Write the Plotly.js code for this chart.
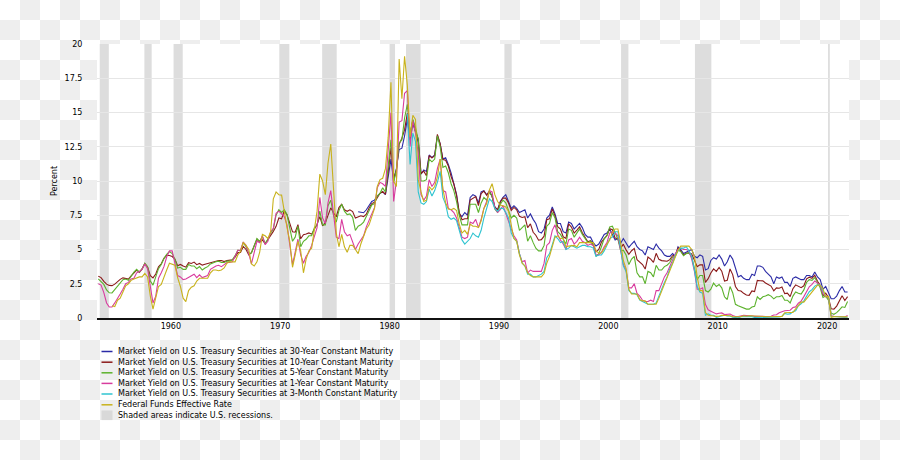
<!DOCTYPE html>
<html>
<head>
<meta charset="utf-8">
<script src="https://cdn.plot.ly/plotly-3.0.1.min.js"></script>
<style>
html, body { margin: 0; padding: 0; }
body { background: repeating-conic-gradient(#eeeeee 0 25%, #ffffff 0 50%) 0 0 / 40px 40px; }
#chart { width: 900px; height: 460px; }
</style>
</head>
<body>
<div id="chart"></div>
<script>
// Series names (legend labels)
const seriesNames = [
  "Market Yield on U.S. Treasury Securities at 30-Year Constant Maturity",
  "Market Yield on U.S. Treasury Securities at 10-Year Constant Maturity",
  "Market Yield on U.S. Treasury Securities at 5-Year Constant Maturity",
  "Market Yield on U.S. Treasury Securities at 1-Year Constant Maturity",
  "Market Yield on U.S. Treasury Securities at 3-Month Constant Maturity",
  "Federal Funds Effective Rate"
];
const recessionNote = "Shaded areas indicate U.S. recessions.";
const seriesColors = ["#2b2ba6", "#8b1a1a", "#5cb22c", "#d83c9e", "#2fc4d0", "#c8b21c"];

// Quarterly readings (percent). Start quarter given per series.
const y30Start = [1977, 1];
const y30 = [
  7.75, 7.72, 7.68, 7.90,
  8.20, 8.50, 8.60, 8.90,
  9.10, 9.20, 9.00, 10.20,
  11.60, 10.00, 10.90, 12.30,
  12.40, 13.30, 14.50, 13.00,
  14.20, 13.60, 12.80, 10.50,
  10.80, 10.70, 11.90, 11.70,
  11.90, 13.30, 12.70, 11.60,
  11.70, 11.20, 10.60, 9.80,
  9.00, 7.60, 7.40, 7.70,
  7.50, 8.80, 9.00, 8.90,
  8.40, 9.20, 9.30, 9.00,
  9.20, 8.90, 8.10, 7.90,
  8.50, 8.80, 9.00, 8.50,
  8.00, 8.20, 8.00, 7.70,
  7.80, 7.90, 7.30, 7.60,
  7.20, 6.90, 6.30, 6.20,
  6.50, 7.30, 7.50, 8.10,
  7.60, 6.90, 6.90, 6.30,
  6.20, 7.00, 6.90, 6.50,
  6.70, 6.90, 6.60, 6.10,
  5.90, 5.90, 5.50, 5.25,
  5.40, 5.80, 6.10, 6.20,
  6.50, 6.10, 5.70, 5.80,
  5.45, 5.80, 5.50, 5.15,
  5.40, 5.60, 5.20, 5.00,
  4.90, 4.60, 5.20, 5.10,
  5.00, 5.40, 5.10, 4.90,
  4.60, 4.50, 4.50, 4.70,
  4.50, 5.20, 5.00, 4.70,
  4.80, 4.90, 5.00, 4.50,
  4.40, 4.60, 4.50, 3.50,
  3.60, 4.20, 4.40, 4.30,
  4.60, 4.30, 3.80, 4.10,
  4.60, 4.30, 3.60, 3.00,
  3.10, 2.90, 2.80, 2.80,
  3.20, 3.10, 3.80, 3.80,
  3.70, 3.40, 3.20, 3.00,
  2.50, 3.00, 2.90, 3.00,
  2.60, 2.60, 2.30, 2.90,
  3.00, 2.90, 2.80, 2.80,
  3.10, 3.10, 3.00, 3.36,
  3.00, 2.80, 2.10, 2.30,
  1.90, 1.40, 1.40, 1.60,
  2.00, 2.30, 1.90, 1.90
];

const y10Start = [1953, 2];
const y10 = [
  3.05, 2.95, 2.68,
  2.47, 2.38, 2.36, 2.47,
  2.67, 2.82, 2.93, 2.89,
  2.84, 3.07, 3.28, 3.49,
  3.32, 3.57, 3.98, 3.72,
  3.09, 2.93, 3.21, 3.73,
  3.96, 4.35, 4.57, 4.56,
  4.49, 4.30, 3.82, 3.91,
  3.79, 3.71, 4.04, 3.98,
  4.08, 3.89, 3.98, 3.86,
  3.92, 3.97, 4.02, 4.12,
  4.15, 4.20, 4.19, 4.12,
  4.19, 4.20, 4.25, 4.45,
  4.77, 4.78, 5.22, 5.00,
  4.61, 4.77, 5.28, 5.75,
  5.53, 5.70, 5.42, 5.70,
  6.04, 6.32, 6.69, 7.30,
  7.24, 7.83, 7.53, 6.87,
  6.29, 6.26, 6.81, 5.78,
  6.08, 6.13, 6.21, 6.12,
  6.51, 6.85, 7.40, 6.73,
  6.96, 7.51, 8.04, 7.68,
  7.39, 8.06, 8.30, 7.90,
  7.79, 7.90, 7.77, 7.29,
  7.39, 7.46, 7.40, 7.58,
  8.03, 8.35, 8.45, 8.75,
  9.10, 9.24, 9.03, 10.65,
  12.41, 10.18, 10.80, 12.68,
  13.12, 13.75, 14.94, 13.39,
  14.43, 13.62, 13.06, 10.55,
  10.72, 10.38, 11.85, 11.69,
  11.84, 13.41, 12.72, 11.57,
  11.51, 11.10, 10.33, 9.78,
  8.93, 7.71, 7.17, 7.25,
  7.25, 8.61, 8.76, 8.86,
  8.21, 9.09, 9.26, 8.96,
  9.27, 8.86, 8.11, 7.87,
  8.47, 8.76, 8.75, 8.39,
  7.85, 8.07, 7.90, 7.42,
  7.34, 7.39, 6.59, 6.87,
  6.26, 6.04, 5.68, 5.72,
  5.97, 7.18, 7.24, 7.96,
  7.44, 6.66, 6.49, 5.93,
  5.81, 6.87, 6.64, 6.20,
  6.42, 6.66, 6.22, 5.88,
  5.57, 5.65, 5.34, 4.83,
  5.00, 5.54, 5.80, 6.03,
  6.52, 6.44, 5.83, 5.78,
  5.10, 5.39, 4.97, 4.65,
  4.91, 5.08, 4.26, 4.05,
  3.90, 3.57, 4.45, 4.30,
  4.06, 4.72, 4.28, 4.19,
  4.17, 4.14, 4.26, 4.54,
  4.57, 5.11, 4.88, 4.60,
  4.72, 4.75, 4.67, 4.15,
  3.74, 3.88, 3.89, 2.60,
  2.87, 3.29, 3.59, 3.40,
  3.69, 3.42, 2.70, 2.76,
  3.58, 3.17, 2.30, 2.01,
  1.97, 1.80, 1.68, 1.65,
  1.98, 1.93, 2.74, 2.72,
  2.71, 2.56, 2.42, 2.33,
  1.98, 2.20, 2.17, 2.26,
  1.78, 1.81, 1.56, 2.14,
  2.42, 2.30, 2.21, 2.35,
  2.86, 2.98, 2.89, 3.12,
  2.68, 2.40, 1.63, 1.81,
  1.50, 0.67, 0.65, 0.87,
  1.26, 1.62, 1.28, 1.56
];

const y5Start = [1953, 2];
const y5 = [
  2.85, 2.66, 2.45,
  2.05, 1.84, 1.83, 2.09,
  2.35, 2.60, 2.80, 2.85,
  2.75, 3.05, 3.35, 3.55,
  3.35, 3.60, 4.00, 3.75,
  2.70, 2.40, 3.00, 3.60,
  3.90, 4.35, 4.65, 4.85,
  4.70, 4.30, 3.65, 3.70,
  3.55, 3.55, 3.90, 3.80,
  3.80, 3.60, 3.75, 3.50,
  3.65, 3.75, 3.95, 4.05,
  4.10, 4.15, 4.05, 4.05,
  4.15, 4.15, 4.25, 4.55,
  4.95, 4.90, 5.50, 5.20,
  4.70, 4.75, 5.30, 5.80,
  5.60, 5.95, 5.45, 5.75,
  6.20, 6.50, 7.50, 7.90,
  7.70, 7.90, 7.55, 6.50,
  5.60, 5.90, 6.70, 5.20,
  5.60, 5.75, 6.00, 6.00,
  6.60, 6.75, 7.80, 6.80,
  6.80, 8.20, 8.60, 7.50,
  7.00, 7.85, 8.30, 7.80,
  7.55, 7.60, 7.35, 6.40,
  6.70, 6.80, 7.00, 7.40,
  7.80, 8.25, 8.35, 8.90,
  9.10, 9.50, 9.20, 10.95,
  13.00, 9.90, 10.80, 12.80,
  13.00, 14.60, 15.60, 13.40,
  14.50, 13.90, 13.00, 10.00,
  10.00, 10.10, 11.60, 11.40,
  11.60, 13.30, 12.50, 11.00,
  11.10, 10.60, 9.80, 9.30,
  8.50, 7.50, 6.80, 6.80,
  6.80, 8.30, 8.30, 8.30,
  7.70, 8.40, 8.80, 8.60,
  9.20, 8.90, 7.95, 7.70,
  8.30, 8.60, 8.40, 7.80,
  7.30, 7.50, 7.30, 6.40,
  6.60, 6.80, 5.60, 6.00,
  5.50, 5.10, 4.90, 4.90,
  5.30, 6.70, 6.90, 7.70,
  7.30, 6.30, 6.10, 5.70,
  5.40, 6.50, 6.40, 5.90,
  6.20, 6.50, 6.10, 5.80,
  5.50, 5.60, 5.30, 4.50,
  4.70, 5.20, 5.80, 6.00,
  6.65, 6.70, 6.20, 5.75,
  4.90, 4.95, 4.60, 3.90,
  4.30, 4.50, 3.30, 3.00,
  3.00, 2.50, 3.40, 3.30,
  3.00, 3.85, 3.50, 3.50,
  3.75, 3.85, 4.05, 4.45,
  4.55, 4.95, 4.85, 4.55,
  4.70, 4.75, 4.45, 3.60,
  2.80, 3.10, 3.10, 2.00,
  1.90, 2.10, 2.55, 2.30,
  2.45, 2.20, 1.55, 1.35,
  2.30, 1.85, 1.00, 0.90,
  0.80, 0.75, 0.65, 0.65,
  0.80, 0.85, 1.55, 1.35,
  1.55, 1.60, 1.70, 1.60,
  1.40, 1.55, 1.55, 1.65,
  1.30, 1.30, 1.10, 1.60,
  1.90, 1.80, 1.75, 2.05,
  2.60, 2.80, 2.75, 2.95,
  2.50, 2.20, 1.50, 1.60,
  1.30, 0.35, 0.27, 0.39,
  0.60, 0.82, 0.77, 1.20
];

const y1Start = [1953, 2];
const y1 = [
  2.50, 2.40, 1.85,
  1.10, 0.80, 0.80, 1.10,
  1.40, 1.75, 2.10, 2.50,
  2.60, 2.85, 2.90, 3.30,
  3.40, 3.55, 3.95, 3.60,
  2.30, 1.10, 1.60, 2.90,
  3.30, 3.75, 4.45, 4.90,
  4.90, 4.10, 3.10, 3.00,
  2.80, 2.85, 2.95, 3.05,
  3.20, 2.95, 3.15, 2.95,
  3.00, 3.10, 3.55, 3.70,
  3.80, 3.85, 3.75, 3.90,
  4.05, 4.05, 4.10, 4.50,
  4.95, 4.95, 5.55, 5.30,
  4.70, 3.95, 4.80, 5.60,
  5.50, 6.00, 5.35, 5.60,
  6.30, 6.55, 7.65, 7.80,
  7.60, 7.40, 6.80, 5.30,
  3.90, 4.80, 5.75, 4.60,
  4.00, 4.50, 4.80, 5.30,
  6.00, 6.60, 8.80, 7.30,
  6.90, 8.40, 9.30, 7.50,
  5.90, 5.80, 7.20, 6.30,
  6.00, 6.10, 5.60, 5.00,
  5.40, 5.75, 6.00, 6.65,
  7.20, 7.60, 8.05, 9.50,
  9.90, 9.80, 9.60, 12.20,
  15.00, 8.50, 10.00, 14.30,
  14.40, 16.40, 16.60, 12.50,
  14.40, 13.50, 12.00, 9.00,
  8.60, 8.90, 10.10, 9.60,
  9.90, 10.90, 11.60, 9.30,
  9.20, 8.00, 7.90, 7.70,
  7.30, 6.60, 5.90, 5.80,
  5.90, 7.00, 6.90, 7.20,
  6.60, 7.20, 8.00, 8.50,
  9.30, 9.20, 8.00, 7.70,
  7.90, 8.20, 7.60, 7.10,
  6.50, 6.00, 5.70, 4.70,
  4.10, 4.20, 3.30, 3.50,
  3.40, 3.40, 3.40, 3.40,
  4.00, 5.30, 5.50, 6.40,
  6.80, 6.10, 5.70, 5.40,
  5.00, 5.70, 5.80, 5.40,
  5.60, 5.90, 5.60, 5.50,
  5.30, 5.40, 5.30, 4.60,
  4.60, 4.80, 5.20, 5.50,
  6.20, 6.30, 6.20, 6.00,
  4.90, 3.90, 3.50, 2.20,
  2.20, 2.50, 1.80, 1.60,
  1.30, 1.20, 1.20, 1.30,
  1.20, 2.00, 2.00, 2.50,
  3.00, 3.30, 3.80, 4.30,
  4.70, 5.00, 5.10, 5.00,
  5.00, 4.90, 4.30, 3.40,
  2.10, 2.10, 2.20, 1.00,
  0.60, 0.50, 0.40, 0.30,
  0.35, 0.37, 0.25, 0.25,
  0.29, 0.19, 0.11, 0.11,
  0.16, 0.19, 0.18, 0.18,
  0.16, 0.12, 0.13, 0.12,
  0.12, 0.10, 0.11, 0.13,
  0.22, 0.24, 0.38, 0.48,
  0.53, 0.55, 0.57, 0.76,
  0.81, 1.08, 1.23, 1.56,
  1.96, 2.28, 2.45, 2.70,
  2.55, 2.34, 1.77, 1.57,
  1.47, 0.16, 0.13, 0.12,
  0.07, 0.05, 0.07, 0.18
];

const m3Start = [1981, 3];
const m3 = [
  14.90, 11.20,
  13.50, 12.90, 9.20, 8.40,
  8.30, 8.50, 9.40, 8.90,
  9.30, 9.90, 10.70, 8.80,
  8.30, 7.40, 7.20, 7.30,
  7.10, 6.30, 5.70, 5.40,
  5.60, 5.80, 6.20, 6.00,
  5.90, 6.40, 7.30, 8.10,
  8.70, 8.50, 8.00, 7.80,
  8.00, 8.00, 7.70, 7.30,
  6.20, 5.80, 5.60, 4.70,
  4.00, 3.80, 3.20, 3.20,
  3.00, 3.00, 3.10, 3.20,
  3.40, 4.40, 4.70, 5.40,
  6.00, 5.80, 5.50, 5.60,
  5.00, 5.10, 5.30, 5.20,
  5.10, 5.20, 5.30, 5.30,
  5.20, 5.20, 5.10, 4.50,
  4.60, 4.60, 4.90, 5.30,
  5.80, 5.90, 6.30, 6.30,
  5.00, 3.80, 3.40, 2.00,
  1.80, 1.80, 1.70, 1.30,
  1.20, 1.10, 1.00, 1.00,
  1.00, 1.10, 1.60, 2.20,
  2.60, 3.00, 3.60, 4.00,
  4.60, 4.90, 5.10, 5.10,
  5.20, 4.90, 4.50, 3.50,
  2.30, 1.90, 1.80, 0.20,
  0.30, 0.20, 0.20, 0.05,
  0.10, 0.20, 0.20, 0.15,
  0.15, 0.06, 0.02, 0.01,
  0.09, 0.09, 0.10, 0.10,
  0.10, 0.04, 0.04, 0.07,
  0.05, 0.03, 0.03, 0.02,
  0.02, 0.02, 0.07, 0.13,
  0.33, 0.27, 0.30, 0.45,
  0.53, 0.90, 1.03, 1.25,
  1.62, 1.92, 2.07, 2.33,
  2.44, 2.40, 1.99, 1.57,
  1.54, 0.13, 0.11, 0.09,
  0.04, 0.02, 0.05, 0.05
];

const ffStart = [1954, 3];
const ff = [
  0.90, 0.83,
  1.30, 1.45, 1.90, 2.35,
  2.50, 2.75, 2.85, 2.95,
  3.00, 3.00, 3.25, 3.00,
  1.60, 0.65, 1.50, 2.30,
  2.45, 2.90, 3.50, 4.00,
  3.95, 3.85, 2.95, 2.30,
  1.45, 1.20, 2.00, 2.25,
  2.35, 2.70, 2.90, 2.90,
  2.95, 2.90, 3.30, 3.50,
  3.50, 3.45, 3.50, 3.65,
  4.00, 4.10, 4.10, 4.10,
  4.60, 4.85, 5.50, 5.30,
  5.00, 3.95, 3.80, 4.10,
  4.80, 6.10, 6.00, 5.80,
  6.30, 8.70, 9.20, 9.00,
  8.97, 7.70, 6.60, 5.60,
  3.70, 4.60, 5.60, 4.90,
  3.30, 4.30, 4.90, 5.10,
  6.60, 7.80, 10.50, 10.00,
  9.00, 11.30, 12.70, 9.50,
  6.20, 5.20, 6.10, 5.20,
  4.80, 5.30, 5.30, 5.00,
  4.70, 5.40, 5.90, 6.50,
  6.80, 7.40, 8.00, 9.60,
  10.10, 10.20, 10.90, 13.20,
  17.20, 10.00, 9.60, 18.90,
  16.00, 19.10, 17.00, 13.20,
  14.80, 14.50, 10.10, 9.20,
  8.50, 8.60, 9.60, 9.35,
  9.60, 10.30, 11.60, 9.40,
  8.40, 7.95, 7.90, 8.00,
  7.85, 6.85, 6.20, 6.40,
  6.10, 6.85, 6.70, 6.70,
  6.60, 7.10, 8.00, 8.35,
  9.35, 9.80, 9.00, 8.50,
  8.25, 8.20, 8.10, 7.80,
  6.90, 5.80, 5.60, 4.60,
  4.00, 3.80, 3.30, 3.10,
  3.00, 3.00, 3.00, 3.00,
  3.25, 4.00, 4.50, 5.30,
  5.90, 6.00, 5.80, 5.80,
  5.20, 5.25, 5.25, 5.30,
  5.20, 5.50, 5.50, 5.50,
  5.50, 5.50, 5.50, 4.90,
  4.75, 4.75, 5.10, 5.40,
  5.70, 6.25, 6.50, 6.50,
  5.50, 4.20, 3.60, 2.10,
  1.75, 1.75, 1.75, 1.35,
  1.25, 1.25, 1.00, 1.00,
  1.00, 1.00, 1.45, 1.95,
  2.50, 3.00, 3.50, 4.00,
  4.50, 4.95, 5.25, 5.25,
  5.25, 5.25, 5.00, 4.50,
  3.00, 2.00, 2.00, 0.40,
  0.20, 0.20, 0.15, 0.12,
  0.13, 0.20, 0.19, 0.19,
  0.16, 0.09, 0.10, 0.08,
  0.10, 0.16, 0.13, 0.16,
  0.15, 0.11, 0.08, 0.08,
  0.07, 0.09, 0.09, 0.09,
  0.11, 0.12, 0.14, 0.12,
  0.38, 0.37, 0.40, 0.41,
  0.66, 0.91, 1.16, 1.16,
  1.42, 1.70, 1.91, 2.20,
  2.40, 2.39, 2.13, 1.55,
  1.58, 0.05, 0.10, 0.09,
  0.08, 0.06, 0.09, 0.08
];

// NBER recessions
const recStart = ["1953-07-01","1957-08-01","1960-04-01","1969-12-01","1973-11-01","1980-01-01","1981-07-01","1990-07-01","2001-03-01","2007-12-01","2020-02-01"];
const recEnd   = ["1954-05-01","1958-04-01","1961-02-01","1970-11-01","1975-03-01","1980-07-01","1982-11-01","1991-03-01","2001-11-01","2009-06-01","2020-04-01"];

// Axis ticks
const yTicks = [0, 2.5, 5, 7.5, 10, 12.5, 15, 17.5, 20];
const yTickText = ["0", "2.5", "5", "7.5", "10", "12.5", "15", "17.5", "20"];
const xTickYears = [1960, 1970, 1980, 1990, 2000, 2010, 2020];

function quarterDates(start, n) {
  const out = [];
  let y = start[0], q = start[1];
  for (let i = 0; i < n; i++) {
    const m = 3 * q - 1;
    out.push(y + "-" + (m < 10 ? "0" + m : m) + "-15");
    q++;
    if (q > 4) { q = 1; y++; }
  }
  return out;
}

const seriesData = [[y30Start, y30], [y10Start, y10], [y5Start, y5], [y1Start, y1], [m3Start, m3], [ffStart, ff]];
const traces = seriesData.map((s, i) => ({
  type: "scatter",
  mode: "lines",
  name: seriesNames[i],
  x: quarterDates(s[0], s[1].length),
  y: s[1],
  line: { color: seriesColors[i], width: 1.1 },
  showlegend: false,
  hoverinfo: "x+y"
}));

// Layout geometry
const M = { l: 97, r: 51, t: 44, b: 142 };
const W = 900 - M.l - M.r, H = 460 - M.t - M.b;
const px2x = px => (px - M.l) / W;
const py2y = py => (460 - M.b - py) / H;

const shapes = recStart.map((s, i) => ({
  type: "rect", xref: "x", yref: "paper", x0: s, x1: recEnd[i], y0: 0, y1: 1,
  fillcolor: "#dddddd", line: { width: 0 }, layer: "below"
}));

// Manual legend
const annotations = [];
const legendRowY = [351.5, 362.2, 372.8, 383.4, 394, 404.8, 415.3];
const legendLabels = seriesNames.concat([recessionNote]);
legendLabels.forEach((t, i) => {
  annotations.push({
    xref: "paper", yref: "paper", x: px2x(116), y: py2y(legendRowY[i]),
    xanchor: "left", yanchor: "middle", showarrow: false, text: t,
    font: { family: "DejaVu Sans", size: 8, color: "#000" }
  });
  if (i < seriesNames.length) {
    shapes.push({ type: "line", xref: "paper", yref: "paper",
      x0: px2x(101.5), x1: px2x(112.5), y0: py2y(legendRowY[i]), y1: py2y(legendRowY[i]),
      line: { color: seriesColors[i], width: 1.5 } });
  } else {
    shapes.push({ type: "rect", xref: "paper", yref: "paper", layer: "above",
      x0: px2x(101.5), x1: px2x(112.5), y0: py2y(legendRowY[i] - 4.8), y1: py2y(legendRowY[i] + 4.8),
      fillcolor: "#d9d9d9", line: { width: 0 } });
  }
});

const layout = {
  width: 900, height: 460,
  margin: M,
  paper_bgcolor: "rgba(0,0,0,0)",
  plot_bgcolor: "#ffffff",
  font: { family: "DejaVu Sans", size: 8, color: "#000" },
  showlegend: false,
  xaxis: {
    type: "date",
    range: ["1953-04-01", "2022-01-01"],
    tickvals: xTickYears.map(y => y + "-01-01"),
    ticktext: xTickYears.map(String),
    showgrid: false, zeroline: false,
    showline: true, linecolor: "#111", linewidth: 1.5,
    ticks: "", tickfont: { family: "DejaVu Sans", size: 8, color: "#000" }
  },
  yaxis: {
    range: [0, 20],
    tickvals: yTicks, ticktext: yTickText,
    showgrid: true, gridcolor: "#e6e6e6", gridwidth: 1,
    zeroline: false, showline: false,
    ticks: "outside", ticklen: 12, tickcolor: "rgba(0,0,0,0)",
    tickfont: { family: "DejaVu Sans", size: 8, color: "#000" },
    title: { text: "Percent", font: { family: "DejaVu Sans", size: 8, color: "#000" }, standoff: 5 }
  },
  shapes: shapes,
  annotations: annotations
};

Plotly.newPlot("chart", traces, layout, { displayModeBar: false, staticPlot: true });
</script>
</body>
</html>
